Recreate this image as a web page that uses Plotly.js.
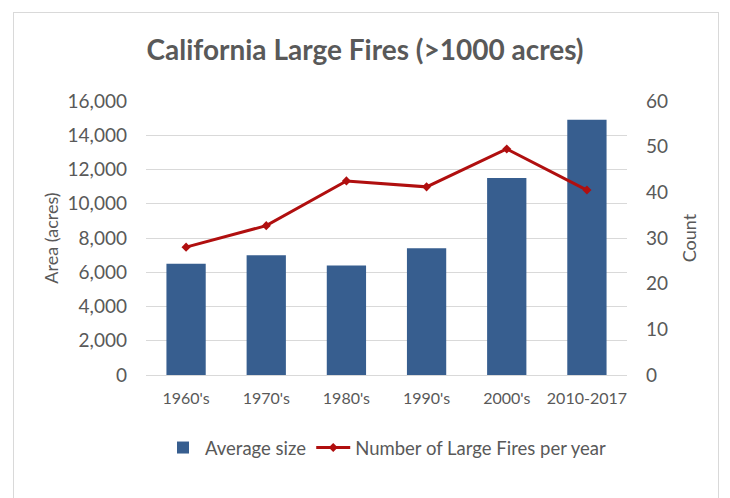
<!DOCTYPE html>
<html>
<head>
<meta charset="utf-8">
<script src="https://cdn.plot.ly/plotly-3.0.1.min.js"></script>
<style>
  html, body { margin: 0; padding: 0; background: #ffffff; }
  #wrap { position: relative; width: 730px; height: 498px; overflow: hidden; }
  #frame { position: absolute; left: 13px; top: 12px; width: 706px; height: 500px; border: 1px solid #d9d9d9; box-sizing: border-box; pointer-events: none; }
  #chart { position: absolute; left: 0; top: 0; width: 730px; height: 498px; }
</style>
</head>
<body>
<div id="wrap">
  <div id="chart"></div>
  <div id="frame"></div>
</div>
<script>
const categories = ["1960's", "1970's", "1980's", "1990's", "2000's", "2010-2017"];
const averageSize = [6500, 7000, 6400, 7400, 11500, 14900];
const largeFiresPerYear = [28, 32.7, 42.5, 41.2, 49.5, 40.5];
const leftTicks = [0, 2000, 4000, 6000, 8000, 10000, 12000, 14000, 16000];
const rightTicks = [0, 10, 20, 30, 40, 50, 60];

const textColor = "#595959";
const fontFam = "Lato, 'Open Sans', sans-serif";

const traces = [
  {
    type: "bar",
    name: "Average size",
    x: categories,
    y: averageSize,
    marker: { color: "#375E8F" },
    width: 0.49,
    yaxis: "y"
  },
  {
    type: "scatter",
    mode: "lines+markers",
    name: "Number of Large Fires per year",
    x: categories,
    y: largeFiresPerYear,
    line: { color: "#B00F0F", width: 3 },
    marker: { color: "#B00F0F", size: 7, symbol: "diamond" },
    yaxis: "y2"
  }
];

const layout = {
  width: 730,
  height: 498,
  paper_bgcolor: "#ffffff",
  plot_bgcolor: "#ffffff",
  margin: { l: 146, r: 103, t: 101, b: 123 },
  font: { family: fontFam, color: textColor },
  title: {
    text: "<b>California Large Fires (>1000 acres)</b>",
    font: { size: 28, color: textColor, family: fontFam },
    x: 0.5, xanchor: "center",
    y: 1 - 50 / 498, yanchor: "middle", yref: "container"
  },
  xaxis: {
    type: "category",
    tickfont: { size: 16, color: textColor },
    showgrid: false,
    showline: false,
    ticks: "",
    ticklabelstandoff: 12
  },
  yaxis: {
    range: [0, 16000],
    tickvals: leftTicks,
    tickformat: ",d",
    tickfont: { size: 19, color: textColor },
    gridcolor: "#d9d9d9",
    gridwidth: 1,
    zeroline: true,
    zerolinecolor: "#d9d9d9",
    showline: false,
    ticks: "",
    ticklabelstandoff: 18,
    title: { text: "Area (acres)", font: { size: 18, color: textColor }, standoff: 4 }
  },
  yaxis2: {
    overlaying: "y",
    side: "right",
    range: [0, 60],
    tickvals: rightTicks,
    tickfont: { size: 19, color: textColor },
    showgrid: false,
    zeroline: false,
    showline: false,
    ticks: "",
    ticklabelstandoff: 18,
    title: { text: "Count", font: { size: 18, color: textColor }, standoff: 16 }
  },
  showlegend: true,
  legend: {
    orientation: "h",
    x: 0.5, xanchor: "center",
    y: (375 - 448) / 274, yanchor: "middle",
    font: { size: 18.5, color: textColor },
    itemwidth: 34,
    tracegroupgap: 0
  },
  bargap: 0.51
};

Plotly.newPlot("chart", traces, layout, { displayModeBar: false, staticPlot: true });
</script>
</body>
</html>
